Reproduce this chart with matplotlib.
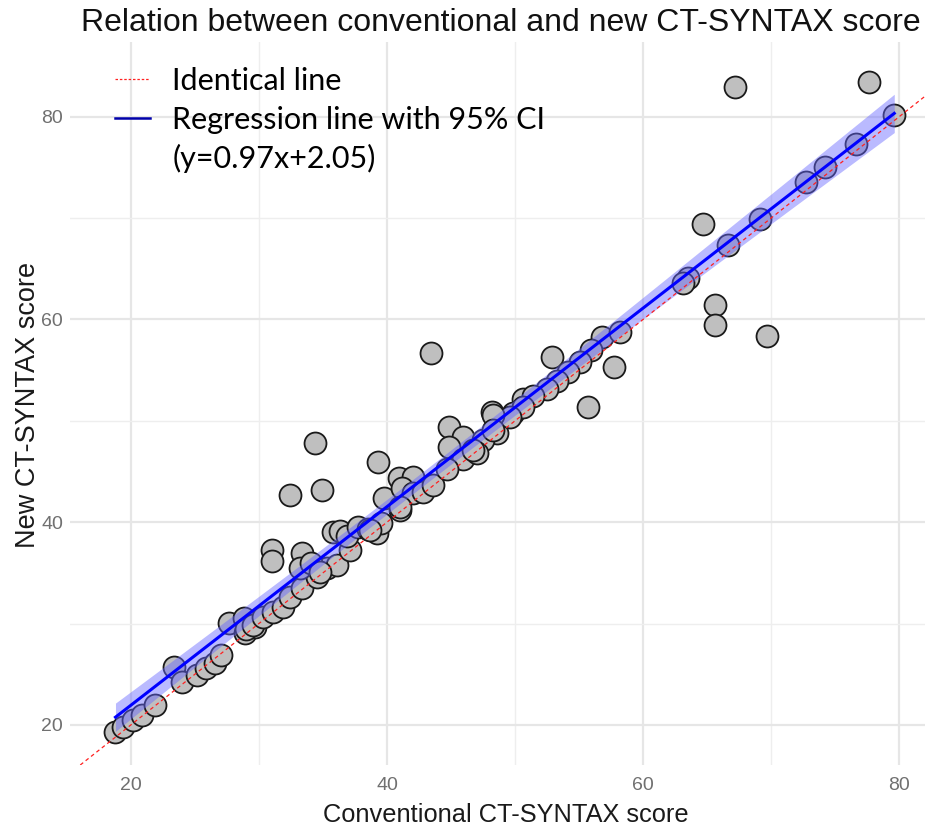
import numpy as np
import matplotlib
matplotlib.use("Agg")
import matplotlib.pyplot as plt
from matplotlib.lines import Line2D

# ---- data ----
conventional = [
    18.8, 19.4, 20.2, 20.9, 21.9, 23.4, 24.0, 25.2, 25.9, 26.6, 27.0, 27.7, 28.9, 29.7,
    28.8, 29.0, 29.5, 30.3, 31.1, 31.9, 32.4, 33.4, 34.5, 35.3, 36.1, 37.1,
    31.0, 31.0, 33.4, 33.2, 34.1, 34.8, 35.8, 36.3, 36.9, 37.7, 38.5, 39.2,
    32.4, 34.9, 34.4, 39.3, 39.8, 40.9, 42.0, 41.2, 42.0, 42.8, 43.6, 41.0, 39.5, 38.7,
    43.4, 44.8, 45.9, 44.8, 48.2, 45.9, 44.7, 41.0, 50.6, 49.8, 48.6, 47.5, 47.0, 46.7,
    52.9, 55.7, 57.7, 56.8, 58.2, 55.9, 55.1, 54.1, 53.3, 52.5, 51.4, 50.6, 49.6, 48.3, 48.3,
    64.7, 65.6, 65.6, 69.7, 63.5, 63.1, 66.6, 69.1,
    67.2, 77.6, 79.6, 76.6, 74.2, 72.7,
]
new_score = [
    19.3, 19.8, 20.5, 21.0, 22.0, 25.7, 24.2, 24.9, 25.6, 26.1, 26.9, 30.1, 29.1, 29.7,
    30.5, 29.5, 29.9, 30.6, 31.1, 31.6, 32.6, 33.5, 34.6, 35.5, 35.8, 37.3,
    37.3, 36.2, 37.0, 35.5, 36.0, 35.1, 39.0, 39.1, 38.6, 39.5, 39.3, 38.9,
    42.7, 43.2, 47.8, 45.9, 42.4, 44.4, 44.5, 43.4, 42.9, 43.0, 43.7, 41.2, 39.9, 39.2,
    56.7, 49.4, 48.4, 47.4, 50.9, 46.2, 45.2, 41.5, 52.1, 50.8, 48.8, 48.1, 46.8, 47.1,
    56.3, 51.4, 55.3, 58.3, 58.8, 57.0, 55.8, 54.8, 53.9, 53.1, 52.4, 51.4, 50.4, 50.6, 49.1,
    69.4, 61.4, 59.4, 58.4, 64.1, 63.6, 67.3, 69.9,
    82.9, 83.4, 80.2, 77.3, 75.0, 73.5,
]
x_ticks = [20, 40, 60, 80]
y_ticks = [20, 40, 60, 80]
legend_labels = ["Identical line", "Regression line with 95% CI", "(y=0.97x+2.05)"]
title = "Relation between conventional and new CT-SYNTAX score"
x_label = "Conventional CT-SYNTAX score"
y_label = "New CT-SYNTAX score"

x = np.array(conventional)
y = np.array(new_score)

# ---- linear regression with 95% CI ----
n = len(x)
slope, intercept = np.polyfit(x, y, 1)
resid = y - (slope * x + intercept)
s = np.sqrt(np.sum(resid ** 2) / (n - 2))
xbar = x.mean()
sxx = np.sum((x - xbar) ** 2)
t_crit = 1.985
xs = np.linspace(x.min(), x.max(), 200)
ys = slope * xs + intercept
se = s * np.sqrt(1.0 / n + (xs - xbar) ** 2 / sxx)

# ---- figure ----
W, H = 925, 831
fig = plt.figure(figsize=(W / 100, H / 100), dpi=100)
ax_left, ax_right, ax_top, ax_bottom = 70, 925, 42, 765
ax = fig.add_axes([ax_left / W, 1 - ax_bottom / H, (ax_right - ax_left) / W, (ax_bottom - ax_top) / H])

ax.set_xlim(15.25, 82.0)
ax.set_ylim(16.05, 87.35)

for sp in ax.spines.values():
    sp.set_visible(False)
ax.set_xticks(x_ticks)
ax.set_yticks(y_ticks)
ax.set_xticks([30, 50, 70], minor=True)
ax.set_yticks([30, 50, 70], minor=True)
ax.grid(True, which="major", color="#e6e6e6", linewidth=1.6, zorder=0)
ax.grid(True, which="minor", color="#eeeeee", linewidth=1.0, zorder=0)
ax.set_axisbelow(True)
ax.tick_params(which="both", length=0)
ax.tick_params(axis="x", pad=9, labelsize=14, labelcolor="#707070")
ax.tick_params(axis="y", pad=5, labelsize=14, labelcolor="#707070")
for lab in ax.get_xticklabels() + ax.get_yticklabels():
    lab.set_family("Liberation Sans")

# points
ax.scatter(x, y, s=250, facecolor="#bfbfbf", edgecolor="#1a1a1a", linewidth=1.3, zorder=2)
# CI ribbon and regression line
ax.fill_between(xs, ys - t_crit * se, ys + t_crit * se, color="#6666ff", alpha=0.45,
                linewidth=0, zorder=3)
ax.plot(xs, ys, color="#0000ff", linewidth=2.2, zorder=4)
# identical line
ax.axline((0, 0), slope=1, color="#ff2020", linestyle=(0, (3, 2.5)), linewidth=0.9, zorder=5)

ax.set_xlabel(x_label, fontsize=18.3, family="Liberation Sans", color="#1a1a1a")
ax.set_ylabel(y_label, fontsize=19.5, family="Liberation Sans", color="#1a1a1a")
ax.xaxis.set_label_coords((506 - ax_left) / (ax_right - ax_left), -(815 - ax_bottom) / (ax_bottom - ax_top))
ax.yaxis.set_label_coords(-(ax_left - 28) / (ax_right - ax_left), (ax_bottom - 405) / (ax_bottom - ax_top))
ax.xaxis.label.set_va("center")
ax.yaxis.label.set_va("center")
fig.text(81 / W, 1 - 23 / H, title, fontsize=23, family="Liberation Sans",
         color="#111111", ha="left", va="center")

handles = [
    Line2D([], [], color="#ff2020", linestyle=(0, (2, 1.5)), linewidth=0.9),
    Line2D([], [], color="#0000aa", linewidth=1.8),
    Line2D([], [], color="none"),
]
leg = ax.legend(handles, legend_labels, loc="upper left",
                bbox_to_anchor=(115 / W, 1 - 67 / H), bbox_transform=fig.transFigure,
                frameon=False, prop={"family": "Lato", "size": 22},
                handlelength=1.15, handletextpad=0.72, labelspacing=0.35,
                borderaxespad=0, borderpad=0)

fig.savefig("out.png", dpi=100)
